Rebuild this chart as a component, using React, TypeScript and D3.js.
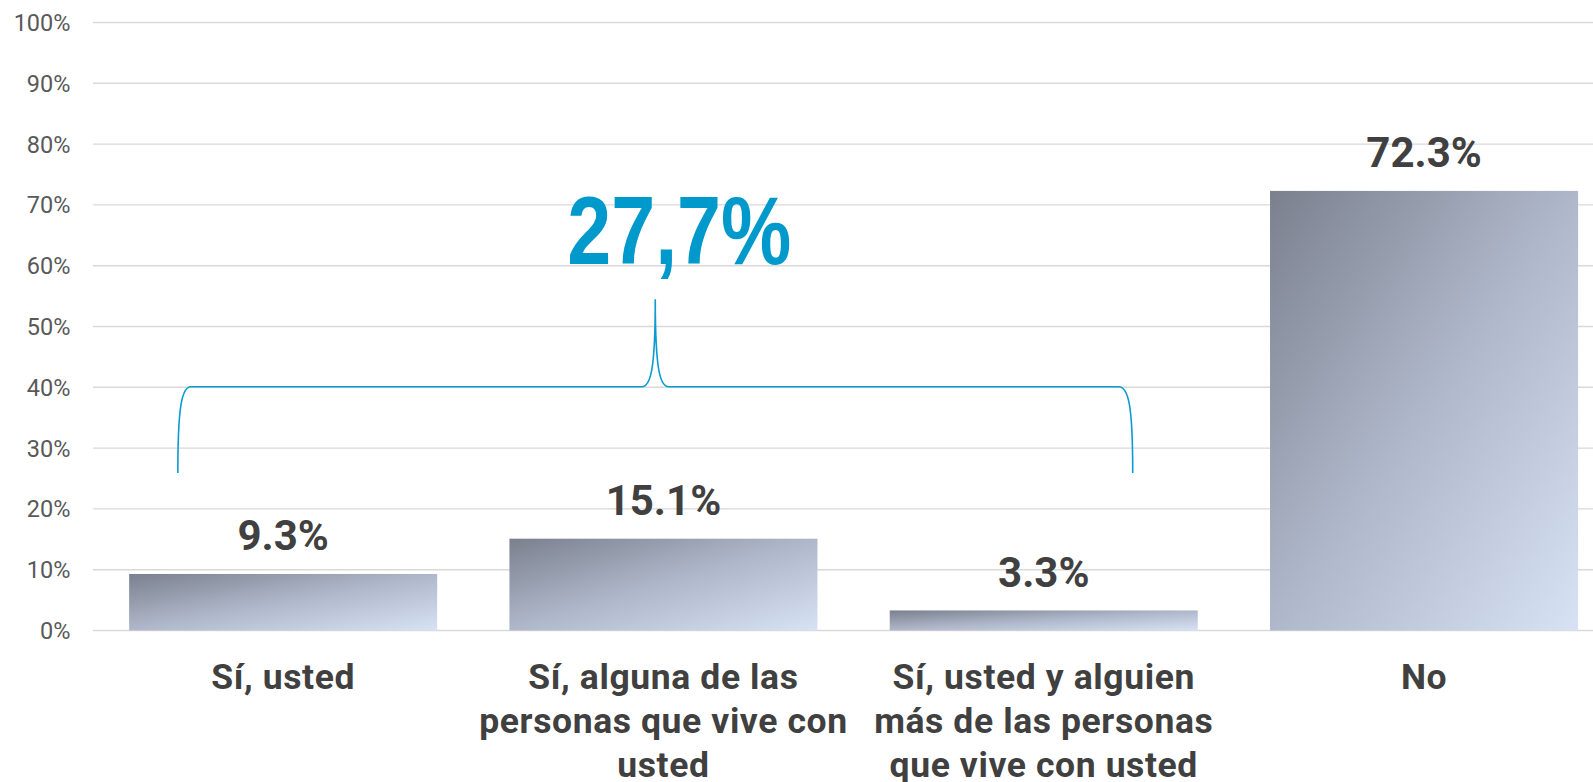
import React from "react";
import * as d3 from "d3";

const categories: string[][] = [
  ["Sí, usted"],
  ["Sí, alguna de las", "personas que vive con", "usted"],
  ["Sí, usted y alguien", "más de las personas", "que vive con usted"],
  ["No"],
];
const values: number[] = [9.3, 15.1, 3.3, 72.3];
const yTicks: number[] = [0, 10, 20, 30, 40, 50, 60, 70, 80, 90, 100];
const bracedIdx: number[] = [0, 1, 2];

const W = 1593;
const H = 782;

export default function App() {
  const keys = categories.map((c) => c.join(" "));
  const x = d3
    .scaleBand<string>()
    .domain(keys)
    .range([93, 93 + 4 * 380.3])
    .paddingInner(0.19)
    .paddingOuter(0.095);
  const y = d3.scaleLinear().domain([0, 100]).range([630.5, 22.5]);
  const bw = x.bandwidth();

  const total = d3.sum(bracedIdx.map((i) => values[i]));
  const totalLabel = d3.format(".1f")(total).replace(".", ",") + "%";

  // brace geometry
  const bl = (x(keys[bracedIdx[0]]) as number) + 48.7;
  const br = (x(keys[bracedIdx[bracedIdx.length - 1]]) as number) + 243;
  const bc = (bl + br) / 2;
  const yH = y(40.1);
  const yB = y(25.9);
  const yP = y(54.5);
  const bracePath = [
    `M${bl},${yB}`,
    `C${bl},${yH + 20} ${bl + 4},${yH} ${bl + 13},${yH}`,
    `L${bc - 13.5},${yH}`,
    `C${bc - 5},${yH} ${bc},${yH - 15} ${bc},${yP}`,
    `C${bc},${yH - 15} ${bc + 5},${yH} ${bc + 13.5},${yH}`,
    `L${br - 14},${yH}`,
    `C${br - 4},${yH} ${br},${yH + 20} ${br},${yB}`,
  ].join(" ");

  return (
    <svg
      width={W}
      height={H}
      style={{ position: "absolute", left: 0, top: 0, background: "#fff" }}
    >
      <defs>
        <linearGradient id="barGrad" x1="0" y1="0" x2="1" y2="1">
          <stop offset="0" stopColor="#7a808e" />
          <stop offset="0.5" stopColor="#afb8ca" />
          <stop offset="1" stopColor="#d8e2f5" />
        </linearGradient>
      </defs>
      {yTicks.map((t) => (
        <g key={t}>
          <line
            x1={93}
            x2={W}
            y1={y(t)}
            y2={y(t)}
            stroke="#d9d9d9"
            strokeWidth={1.4}
          />
          <text
            x={70.5}
            y={y(t)}
            dy="0.36em"
            textAnchor="end"
            fontFamily="Roboto"
            fontSize={23.5}
            fill="#595959"
          >
            {t + "%"}
          </text>
        </g>
      ))}
      {keys.map((k, i) => (
        <g key={k}>
          <rect
            x={x(k)}
            y={y(values[i])}
            width={bw}
            height={y(0) - y(values[i])}
            fill="url(#barGrad)"
          />
          <text
            x={(x(k) as number) + bw / 2}
            y={y(values[i]) - 23.5}
            textAnchor="middle"
            fontFamily="Roboto"
            fontWeight="bold"
            fontSize={42}
            fill="#404040"
          >
            {d3.format(".1f")(values[i]) + "%"}
          </text>
          {categories[i].map((line, j) => (
            <text
              key={j}
              x={(x(k) as number) + bw / 2}
              y={688.5 + j * 44}
              textAnchor="middle"
              fontFamily="Roboto"
              fontWeight="bold"
              fontSize={35.5}
              letterSpacing={0.6}
              fill="#404040"
            >
              {line}
            </text>
          ))}
        </g>
      ))}
      <path d={bracePath} fill="none" stroke="#0c9bd0" strokeWidth={1.6} />
      <text
        x={bc + 24}
        y={263.5}
        textAnchor="middle"
        fontFamily="Liberation Sans"
        fontWeight="bold"
        fontSize={96}
        textLength={224}
        lengthAdjust="spacingAndGlyphs"
        fill="#0099cc"
      >
        {totalLabel}
      </text>
    </svg>
  );
}
